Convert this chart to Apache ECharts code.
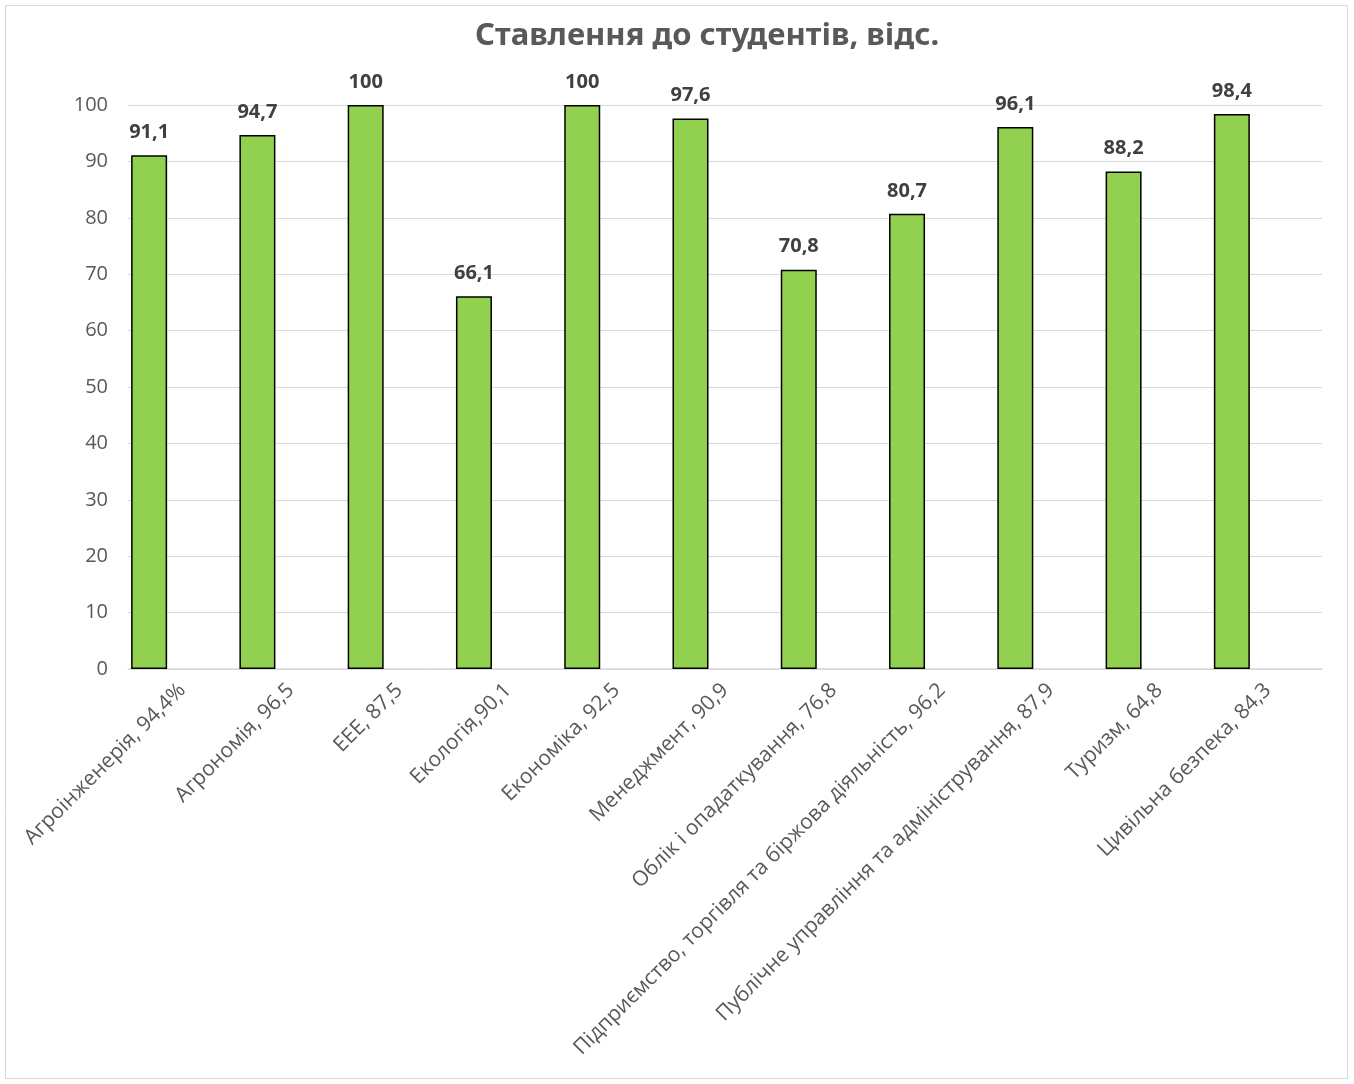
<!DOCTYPE html>
<html>
<head>
<meta charset="utf-8">
<script src="https://cdn.jsdelivr.net/npm/echarts@6/dist/echarts.min.js"></script>
<style>
  html, body { margin: 0; padding: 0; background: #fff; }
  #chart { width: 1354px; height: 1084px; }
</style>
</head>
<body>
<div id="chart"></div>
<script>
const categories = [
  'Агроінженерія, 94,4%',
  'Агрономія, 96,5',
  'ЕЕЕ, 87,5',
  'Екологія,90,1',
  'Економіка, 92,5',
  'Менеджмент, 90,9',
  'Облік і опадаткування, 76,8',
  'Підприємство, торгівля та біржова діяльність, 96,2',
  'Публічне управління та адміністрування, 87,9',
  'Туризм, 64,8',
  'Цивільна безпека, 84,3'
]
const values = [91.1, 94.7, 100, 66.1, 100, 97.6, 70.8, 80.7, 96.1, 88.2, 98.4]

const chart = echarts.init(document.getElementById('chart'))
chart.setOption({
  animation: false,
  backgroundColor: '#fff',
  title: {
    text: 'Ставлення до студентів, відс.',
    left: 470,
    top: 16,
    textStyle: { fontFamily: 'Noto Sans', fontSize: 31, fontWeight: 'bold', color: '#595959' }
  },
  graphic: [{
    type: 'rect',
    shape: { x: 5.5, y: 5.5, width: 1342, height: 1073 },
    style: { fill: 'none', stroke: '#d9d9d9', lineWidth: 1 },
    silent: true
  }],
  // labels + gridlines use the full plot width, bars sit slightly to the left
  grid: [
    { left: 128, right: 32, top: 105, bottom: 415 },
    { left: 95, right: 68, top: 105, bottom: 415 }
  ],
  xAxis: [{
    type: 'category',
    gridIndex: 0,
    data: categories,
    axisLine: { lineStyle: { color: '#d9d9d9', width: 1.5 } },
    axisTick: { show: false },
    axisLabel: {
      interval: 0,
      rotate: 45,
      margin: 18,
      fontFamily: 'Open Sans',
      fontSize: 21,
      color: '#595959'
    }
  }, {
    type: 'category',
    gridIndex: 1,
    data: categories,
    show: false
  }],
  yAxis: [{
    type: 'value',
    gridIndex: 0,
    min: 0,
    max: 100,
    interval: 10,
    axisLine: { show: false },
    axisTick: { show: false },
    axisLabel: { fontFamily: 'Open Sans', fontSize: 20, color: '#595959', margin: 20 },
    splitLine: { lineStyle: { color: '#d9d9d9', width: 1 } }
  }, {
    type: 'value',
    gridIndex: 1,
    min: 0,
    max: 100,
    show: false
  }],
  series: [{
    type: 'bar',
    xAxisIndex: 1,
    yAxisIndex: 1,
    data: values,
    barWidth: 36,
    itemStyle: { color: '#92D050', borderColor: '#000', borderWidth: 1.5 },
    label: {
      show: true,
      position: 'top',
      distance: 13,
      fontFamily: 'Noto Sans',
      fontSize: 20,
      fontWeight: 'bold',
      color: '#404040',
      formatter: p => String(p.value).replace('.', ',')
    }
  }]
})
</script>
</body>
</html>
